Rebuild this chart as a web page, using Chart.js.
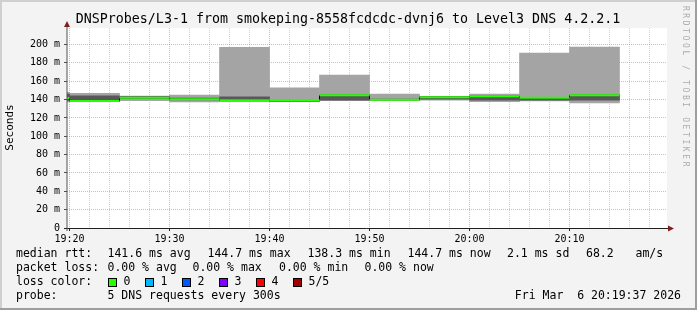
<!DOCTYPE html>
<html>
<head>
<meta charset="utf-8">
<title>DNSProbes/L3-1</title>
<script src="https://cdn.jsdelivr.net/npm/chart.js@4.4.1/dist/chart.umd.min.js"></script>
<style>
  html, body { margin: 0; padding: 0; background: #f3f3f3; }
  canvas { display: block; }
</style>
</head>
<body>
<canvas id="chart" width="697" height="310"></canvas>
<script>
// one entry per 5 minute step (start time of the step)
const stepStart = ['19:15', '19:20', '19:25', '19:30', '19:35', '19:40', '19:45', '19:50', '19:55', '20:00', '20:05', '20:10'];
// sorted pings of each step, in ms
const pingMin   = [137.3, 137.8, 138.8, 137.5, 137.6, 137.6, 138.8, 139.0, 139.3, 137.6, 138.6, 136.4];
const ping2     = [139.0, 138.0, 141.4, 139.5, 138.8, 138.2, 139.4, 139.5, 140.5, 139.4, 139.4, 139.4];
const medianRtt = [141.8, 138.3, 141.9, 140.4, 139.2, 139.6, 144.7, 139.9, 142.6, 143.6, 141.9, 144.7];
const ping4     = [146.0, 144.0, 143.2, 141.5, 143.0, 140.0, 144.2, 140.5, 143.0, 143.4, 141.3, 144.0];
const pingMax   = [148.0, 146.8, 143.7, 144.8, 197.0, 152.8, 166.6, 145.9, 143.4, 145.9, 190.7, 197.2];
const lossCount = [0, 0, 0, 0, 0, 0, 0, 0, 0, 0, 0, 0];

const lossColors = ['#26ff00', '#00b8ff', '#0059ff', '#7e00ff', '#ff0000', '#a10000'];
const lossLabels = ['0', '1', '2', '3', '4', '5/5'];

const medianStats = ['141.6 ms avg', '144.7 ms max', '138.3 ms min', '144.7 ms now', '2.1 ms sd', '68.2', 'am/s'];
const lossStats = ['0.00 % avg', '0.00 % max', '0.00 % min', '0.00 % now'];
const probeText = '5 DNS requests every 300s';
const stampText = 'Fri Mar  6 20:19:37 2026';
const titleText = 'DNSProbes/L3-1 from smokeping-8558fcdcdc-dvnj6 to Level3 DNS 4.2.2.1';

const graphStart = '19:19:45';
const graphEnd = '20:19:45';
const stepSeconds = 300;
const majorTimeStep = 600;
const minorTimeStep = 120;
const yMax = 218;

const MONO = '"DejaVu Sans Mono", monospace';
const majorGrid = 'rgba(255, 80, 80, 0.5)';
const minorGrid = 'rgba(140, 140, 140, 0.4)';

function toSec(s) {
    const [h, m, sec = 0] = s.split(':').map(Number);
    return h * 3600 + m * 60 + sec;
}

function hhmm(v) {
    const h = Math.floor(v / 3600);
    const m = Math.floor((v % 3600) / 60);
    return h + ':' + String(m).padStart(2, '0');
}

// ticks on round clock times inside the range
function clockTicks(min, max, step) {
    let out = [];
    for (let v = Math.ceil(min / step) * step; v <= max; v += step) {
        out.push({ value: v });
    }
    return out;
}

const starts = stepStart.map(toSec);
const ends = starts.map(s => s + stepSeconds);
const centers = starts.map(s => s + stepSeconds / 2);

// green median pieces, broken between steps
let medianPieces = [];
for (let i = 0; i < starts.length; i++) {
    medianPieces.push({ x: starts[i], y: medianRtt[i] });
    medianPieces.push({ x: ends[i], y: medianRtt[i] });
    medianPieces.push({ x: ends[i], y: null });
}

let medianSteps = starts.map((s, i) => ({ x: s, y: medianRtt[i] }));
medianSteps.push({ x: ends[ends.length - 1], y: medianRtt[medianRtt.length - 1] });

const rrdLook = {
    id: 'rrdLook',
    beforeDraw(chart) {
        const { ctx, chartArea: a, width, height } = chart;
        ctx.save();
        ctx.fillStyle = '#f3f3f3';
        ctx.fillRect(0, 0, width, height);
        // 3d frame
        ctx.fillStyle = '#cfcfcf';
        ctx.fillRect(0, 0, width, 2);
        ctx.fillRect(0, 0, 2, height);
        ctx.fillStyle = '#9e9e9e';
        ctx.fillRect(0, height - 2, width, 2);
        ctx.fillRect(width - 2, 0, 2, height);
        ctx.fillStyle = '#ffffff';
        ctx.fillRect(a.left, a.top, a.right - a.left, a.bottom - a.top);
        ctx.restore();
    },
    afterDatasetsDraw(chart) {
        const { ctx, chartArea: a } = chart;
        ctx.save();
        // axes
        ctx.strokeStyle = '#1f1f1f';
        ctx.lineWidth = 1;
        ctx.beginPath();
        ctx.moveTo(a.left - 3, a.bottom + 0.5);
        ctx.lineTo(a.right + 2, a.bottom + 0.5);
        ctx.stroke();
        ctx.strokeStyle = '#505050';
        ctx.beginPath();
        ctx.moveTo(a.left, a.bottom + 3);
        ctx.lineTo(a.left, a.top - 3);
        ctx.stroke();
        // arrows
        ctx.fillStyle = '#7f1f1f';
        ctx.beginPath();
        ctx.moveTo(a.right + 7, a.bottom + 0.5);
        ctx.lineTo(a.right + 1, a.bottom - 2.5);
        ctx.lineTo(a.right + 1, a.bottom + 3.5);
        ctx.closePath();
        ctx.fill();
        ctx.beginPath();
        ctx.moveTo(a.left, a.top - 7);
        ctx.lineTo(a.left - 3, a.top - 1);
        ctx.lineTo(a.left + 3, a.top - 1);
        ctx.closePath();
        ctx.fill();
        ctx.restore();
    },
    afterDraw(chart) {
        const { ctx } = chart;
        ctx.save();
        ctx.fillStyle = '#000';
        ctx.textBaseline = 'middle';

        ctx.font = '13.3px ' + MONO;
        ctx.textAlign = 'center';
        ctx.fillText(titleText, 348, 19.5);

        // y unit
        ctx.save();
        ctx.translate(10.5, 127.5);
        ctx.rotate(-Math.PI / 2);
        ctx.font = '11px ' + MONO;
        ctx.fillText('Seconds', 0, 0);
        ctx.restore();

        // watermark
        ctx.save();
        ctx.translate(685, 87.5);
        ctx.rotate(Math.PI / 2);
        ctx.font = '8px ' + MONO;
        ctx.fillStyle = '#acacac';
        ctx.letterSpacing = '2.6px';
        ctx.fillText('RRDTOOL / TOBI OETIKER', 0, 0);
        ctx.restore();

        // legend
        ctx.font = '11.5px ' + MONO;
        ctx.textAlign = 'left';
        const rowY = [254.5, 268.5, 282.5, 296.5];
        ctx.fillText('median rtt:', 16, rowY[0]);
        const medianCols = [107.5, 207.5, 307.5, 407.5, 507, 586, 635.5];
        medianStats.forEach((t, i) => ctx.fillText(t, medianCols[i], rowY[0]));

        ctx.fillText('packet loss:', 16, rowY[1]);
        const lossCols = [107.5, 192.5, 279, 364.5];
        lossStats.forEach((t, i) => ctx.fillText(t, lossCols[i], rowY[1]));

        ctx.fillText('loss color:', 16, rowY[2]);
        lossLabels.forEach((t, i) => {
            const bx = 108 + i * 37;
            ctx.fillStyle = lossColors[i];
            ctx.fillRect(bx, 278, 9, 9);
            ctx.strokeStyle = '#000';
            ctx.lineWidth = 1;
            ctx.strokeRect(bx + 0.5, 278.5, 8, 8);
            ctx.fillStyle = '#000';
            ctx.fillText(t, bx + 15.5, rowY[2]);
        });

        ctx.fillText('probe:', 16, rowY[3]);
        ctx.fillText(probeText, 107.5, rowY[3]);
        ctx.textAlign = 'right';
        ctx.fillText(stampText, 681, rowY[3]);
        ctx.restore();
    }
};

const chart = new Chart(document.getElementById('chart'), {
    type: 'bar',
    data: {
        datasets: [
            {
                type: 'line',
                label: 'median',
                order: 0,
                data: medianPieces,
                borderWidth: 2,
                borderCapStyle: 'butt',
                pointRadius: 0,
                spanGaps: false,
                borderColor: lossColors[0],
                segment: {
                    borderColor: c => lossColors[lossCount[Math.floor(c.p0DataIndex / 3)]]
                }
            },
            {
                type: 'line',
                label: 'median step',
                order: 1,
                data: medianSteps,
                stepped: 'before',
                borderWidth: 1,
                borderColor: '#000000',
                pointRadius: 0
            },
            {
                label: 'inner smoke',
                order: 2,
                data: centers.map((c, i) => ({ x: c, y: [ping2[i], ping4[i]] })),
                backgroundColor: '#585858',
                grouped: false,
                barPercentage: 1,
                categoryPercentage: 1
            },
            {
                label: 'outer smoke',
                order: 3,
                data: centers.map((c, i) => ({ x: c, y: [pingMin[i], pingMax[i]] })),
                backgroundColor: '#a4a4a4',
                grouped: false,
                barPercentage: 1,
                categoryPercentage: 1
            }
        ]
    },
    options: {
        responsive: false,
        animation: false,
        layout: { padding: { left: 0, top: 28, right: 30, bottom: 0 } },
        plugins: {
            legend: { display: false },
            tooltip: { enabled: false }
        },
        scales: {
            x: {
                type: 'linear',
                min: toSec(graphStart),
                max: toSec(graphEnd),
                offset: false,
                grid: {
                    offset: false,
                    color: majorGrid,
                    tickLength: 3,
                    tickColor: '#1f1f1f'
                },
                border: { display: false, dash: [1, 1] },
                ticks: {
                    maxRotation: 0,
                    autoSkip: false,
                    padding: 2,
                    color: '#000',
                    font: { family: MONO, size: 10 },
                    callback: v => hhmm(v)
                },
                afterBuildTicks: s => { s.ticks = clockTicks(s.min, s.max, majorTimeStep); },
                afterFit: s => { s.height = 82; }
            },
            x2: {
                type: 'linear',
                position: 'bottom',
                min: toSec(graphStart),
                max: toSec(graphEnd),
                offset: false,
                grid: {
                    offset: false,
                    drawTicks: false,
                    color: c => (c.tick.value % majorTimeStep === 0 ? 'transparent' : minorGrid)
                },
                border: { display: false, dash: [1, 1] },
                ticks: { display: false },
                afterBuildTicks: s => { s.ticks = clockTicks(s.min, s.max, minorTimeStep); },
                afterFit: s => { s.height = 0; }
            },
            y: {
                min: 0,
                max: yMax,
                grid: {
                    color: c => (c.tick.value % 20 === 0 ? majorGrid : minorGrid),
                    tickLength: 3,
                    tickColor: '#505050'
                },
                border: { display: false, dash: [1, 1] },
                ticks: {
                    stepSize: 10,
                    includeBounds: false,
                    padding: 4,
                    color: '#000',
                    font: { family: MONO, size: 10 },
                    callback: v => (v % 20 !== 0 ? '' : (v === 0 ? '0' : v + ' m'))
                },
                afterFit: s => { s.width = 67; }
            }
        }
    },
    plugins: [rrdLook]
});
</script>
</body>
</html>
